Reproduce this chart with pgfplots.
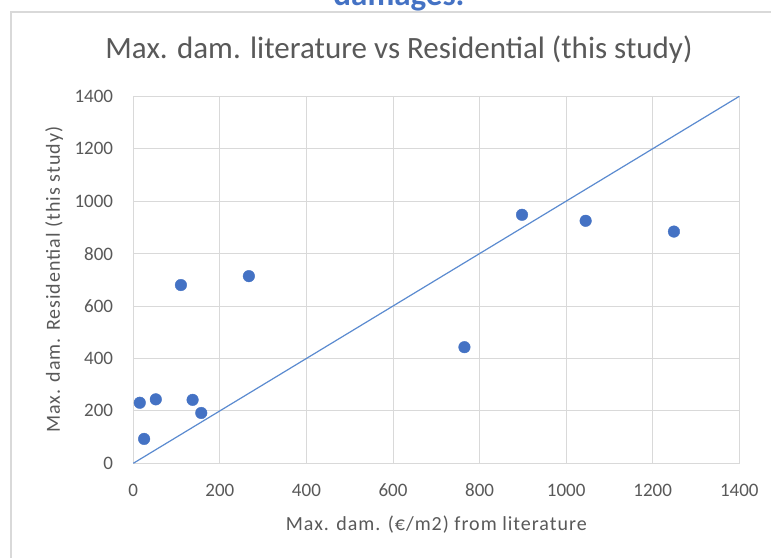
\documentclass[border=0pt]{standalone}
\usepackage{fontspec}
\setmainfont{Carlito}
\newfontfamily\lsfont[LetterSpace=5]{Carlito}
\usepackage{pgfplots}
\pgfplotsset{compat=1.18}
\definecolor{mk}{HTML}{4472C4}
\definecolor{ln}{HTML}{5B8BD0}
\definecolor{txt}{HTML}{595959}
\definecolor{grd}{HTML}{D9D9D9}
\definecolor{ttl}{HTML}{4472C4}
\begin{document}
\begin{tikzpicture}
\useasboundingbox (0pt,0pt) rectangle (771pt,557pt);
\fill[white] (0pt,0pt) rectangle (771pt,557pt);
\draw[grd, line width=1.2pt] (11pt,-2pt) -- (11pt,545pt) -- (775pt,545pt);
\node[anchor=base, inner sep=0pt, font=\bfseries\fontsize{33}{38}\selectfont, text=ttl] at (399pt,551pt) {damages.};
\node[anchor=base, inner sep=0pt, font=\fontsize{31}{36}\selectfont, text=txt] at (399pt,498pt) {Max. dam. literature vs Residential (this study)};
\begin{axis}[
  at={(133.3pt,93.7pt)}, anchor=south west,
  scale only axis, width=606pt, height=367pt,
  xmin=0, xmax=1400, ymin=0, ymax=1400,
  xtick distance=200, ytick distance=200,
  grid=major,
  grid style={line width=1pt, color=grd},
  axis line style={line width=1pt, color=grd},
  major tick length=0pt,
  /pgf/number format/assume math mode=true,
  /pgf/number format/1000 sep={},
  tick label style={font=\fontsize{19}{22}\selectfont, text=txt, inner sep=0pt},
  xticklabel style={anchor=base, yshift=-33.4pt},
  yticklabel style={anchor=east, xshift=-20pt},
  xlabel={Max. dam. (€/m2) from literature},
  ylabel={Max. dam. Residential (this study)},
  every axis x label/.style={at={(axis description cs:0.5,0)}, yshift=-66.7pt, anchor=base, inner sep=0pt, font=\lsfont\fontsize{20}{24}\selectfont, text=txt},
  every axis y label/.style={at={(axis description cs:0,0.5)}, xshift=-73.3pt, anchor=base, rotate=90, inner sep=0pt, font=\lsfont\fontsize{20}{24}\selectfont, text=txt},
  clip=false,
]
\addplot[ln, line width=1.2pt] coordinates {(0,0) (1400,1400)};
\addplot[only marks, mark=*, mark size=5.8pt, mk, mark options={draw=mk, fill=mk}] coordinates {
(15,231) (25,93) (52,244) (110,680) (137,242) (157,192) (267,714)
(765,443) (898,948) (1045,925) (1249,884)
};
\end{axis}
\end{tikzpicture}
\end{document}
